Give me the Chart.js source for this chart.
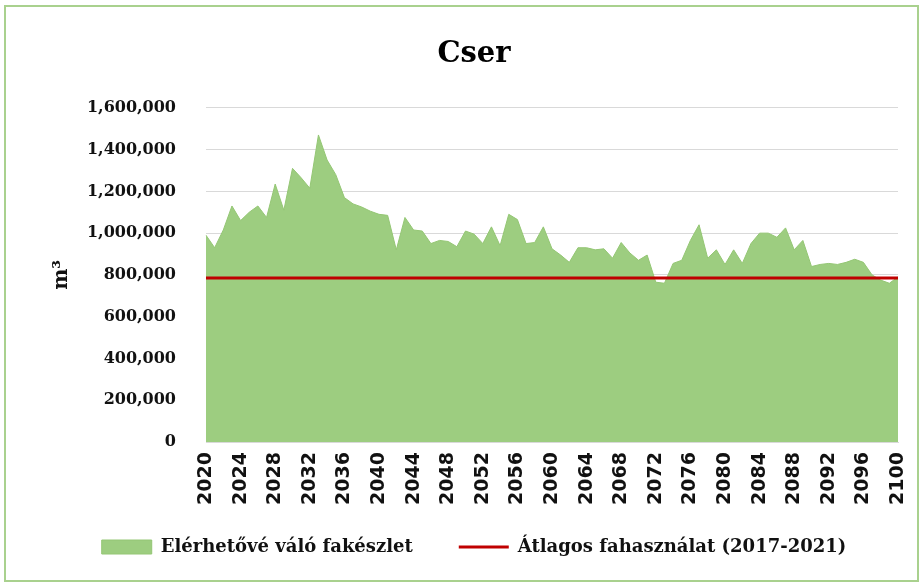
<!DOCTYPE html>
<html>
<head>
<meta charset="utf-8">
<script src="https://cdn.jsdelivr.net/npm/chart.js@4"></script>
<style>
  html, body { margin: 0; padding: 0; background: #ffffff; }
  #wrap { width: 923px; height: 587px; position: relative; }
</style>
</head>
<body>
<div id="wrap"><canvas id="c" width="923" height="587"></canvas></div>
<script>
const years = ['2020','2021','2022','2023','2024','2025','2026','2027','2028','2029',
  '2030','2031','2032','2033','2034','2035','2036','2037','2038','2039',
  '2040','2041','2042','2043','2044','2045','2046','2047','2048','2049',
  '2050','2051','2052','2053','2054','2055','2056','2057','2058','2059',
  '2060','2061','2062','2063','2064','2065','2066','2067','2068','2069',
  '2070','2071','2072','2073','2074','2075','2076','2077','2078','2079',
  '2080','2081','2082','2083','2084','2085','2086','2087','2088','2089',
  '2090','2091','2092','2093','2094','2095','2096','2097','2098','2099','2100'];

const availableStock = [990000, 930000, 1015000, 1130000, 1060000, 1100000, 1130000, 1075000, 1235000, 1110000,
  1310000, 1265000, 1215000, 1470000, 1350000, 1280000, 1170000, 1140000, 1125000, 1105000,
  1090000, 1085000, 920000, 1075000, 1015000, 1010000, 950000, 965000, 960000, 935000,
  1010000, 995000, 950000, 1030000, 940000, 1090000, 1065000, 950000, 955000, 1030000,
  925000, 895000, 860000, 930000, 930000, 920000, 925000, 880000, 955000, 905000,
  870000, 895000, 765000, 760000, 855000, 870000, 965000, 1040000, 880000, 920000,
  850000, 920000, 855000, 950000, 1000000, 1000000, 980000, 1025000, 920000, 965000,
  840000, 850000, 855000, 850000, 860000, 875000, 860000, 800000, 775000, 760000, 790000];

const avgUseValue = 785000;
const avgUseSpan = ['2020', '2100'];

const xTickLabels = ['2020','2024','2028','2032','2036','2040','2044','2048','2052','2056',
  '2060','2064','2068','2072','2076','2080','2084','2088','2092','2096','2100'];

const seriesNames = ['Elérhetővé váló fakészlet', 'Átlagos fahasználat (2017-2021)'];
const chartTitle = 'Cser';
const yAxisTitle = 'm³';

const frame = {
  id: 'frame',
  beforeDraw(chart) {
    const ctx = chart.ctx;
    ctx.save();
    ctx.fillStyle = '#ffffff';
    ctx.fillRect(0, 0, chart.width, chart.height);
    ctx.strokeStyle = '#a9d18e';
    ctx.lineWidth = 2;
    ctx.strokeRect(5, 6, 913, 575);
    ctx.restore();
  }
};

const legendLift = {
  id: 'legendLift',
  afterLayout(chart) {
    const lg = chart.legend;
    if (lg) { lg.top -= 14; lg.bottom -= 14; }
  }
};

new Chart(document.getElementById('c'), {
  type: 'line',
  data: {
    labels: years,
    datasets: [
      {
        label: seriesNames[0],
        data: availableStock,
        fill: 'origin',
        backgroundColor: '#9dcd80',
        borderColor: '#94c674',
        borderWidth: 1,
        pointRadius: 0,
        pointStyle: 'rect',
        tension: 0,
        order: 2
      },
      {
        label: seriesNames[1],
        data: avgUseSpan.map(y => ({ x: y, y: avgUseValue })),
        fill: false,
        borderColor: '#c00000',
        backgroundColor: '#c00000',
        borderWidth: 3,
        pointRadius: 0,
        pointStyle: 'line',
        order: 1
      }
    ]
  },
  options: {
    responsive: false,
    animation: false,
    devicePixelRatio: 1,
    layout: { padding: { left: 50, right: 25, top: 10, bottom: 7 } },
    plugins: {
      title: {
        display: true,
        text: chartTitle,
        color: '#000',
        font: { family: 'DejaVu Serif', weight: 'bold', size: 29 },
        padding: { top: 27, bottom: 36 }
      },
      legend: {
        position: 'bottom',
        labels: {
          usePointStyle: true,
          pointStyleWidth: 50,
          boxHeight: 14,
          padding: 46,
          color: '#111',
          font: { family: 'DejaVu Serif', weight: 'bold', size: 18 },
          sort: (a, b) => a.datasetIndex - b.datasetIndex
        }
      },
      tooltip: { enabled: false }
    },
    scales: {
      x: {
        type: 'category',
        grid: { display: false, drawTicks: false },
        border: { display: true, color: '#d9d9d9', width: 1 },
        afterFit(scale) { scale.height = 64; scale.paddingRight = 4; scale.paddingLeft = 4; },
        ticks: {
          autoSkip: false,
          minRotation: 90,
          maxRotation: 90,
          padding: 10,
          color: '#111',
          font: { family: 'DejaVu Sans', weight: 'bold', size: 19 },
          callback(value, index) {
            const lab = years[index];
            return xTickLabels.includes(lab) ? lab : '';
          }
        }
      },
      y: {
        min: 0,
        max: 1600000,
        afterFit(scale) { scale.width = 156; },
        grid: { color: '#d9d9d9', drawTicks: false },
        border: { display: false },
        ticks: {
          stepSize: 200000,
          padding: 30,
          color: '#111',
          font: { family: 'DejaVu Serif', weight: 'bold', size: 16 },
          callback(v) { return v.toLocaleString('en-US'); }
        },
        title: {
          display: true,
          text: yAxisTitle,
          color: '#111',
          font: { family: 'DejaVu Serif', weight: 'bold', size: 20 },
          padding: { top: 0, bottom: 0 }
        }
      }
    }
  },
  plugins: [frame, legendLift]
});
</script>
</body>
</html>
